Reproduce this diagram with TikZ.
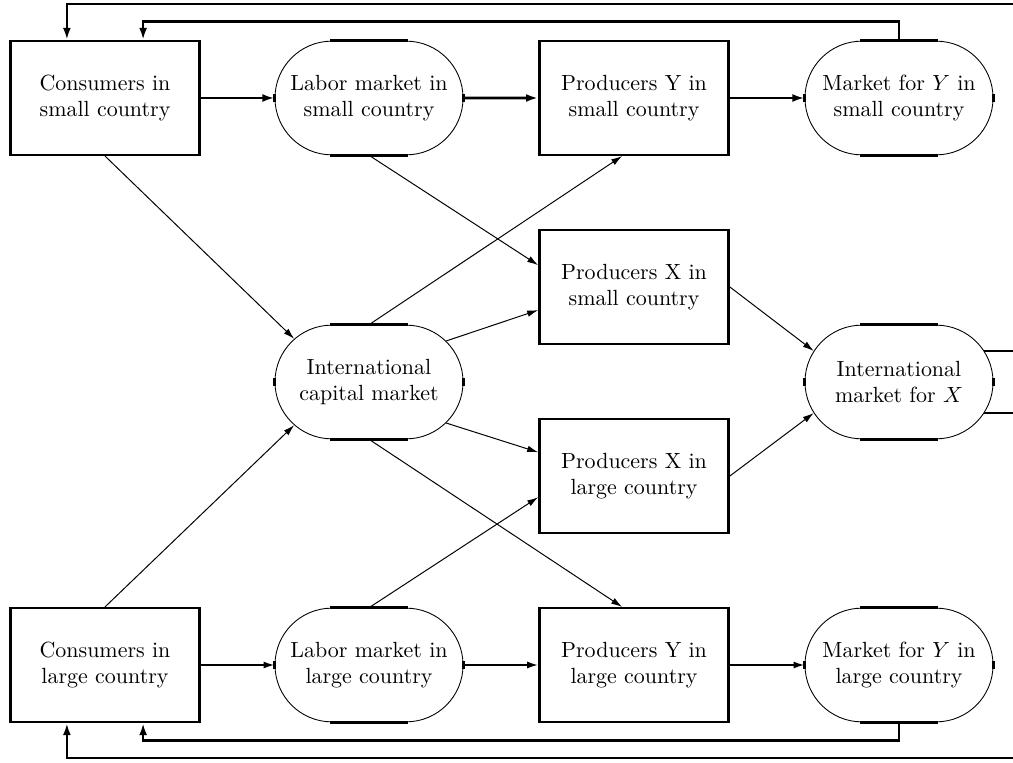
\documentclass[tikz,border=0pt]{standalone}
\usetikzlibrary{arrows.meta,shapes.misc}
\begin{document}
\begin{tikzpicture}[x=0.016cm,y=0.016cm,
  agent/.style={draw, line width=1.1pt, minimum width=3.03cm, minimum height=1.82cm, align=center},
  market/.style={draw, line width=0.4pt, rounded rectangle, inner sep=0pt, minimum width=3.01cm, minimum height=1.82cm,
    label={[align=center]center:#1}},
  bar/.style={line width=1.2pt},
  link/.style={line width=0.45pt, -{Latex[length=5pt,width=3pt]}},
  flow/.style={line width=0.8pt, -{Latex[length=5pt,width=3.2pt]}},
  bigflow/.style={line width=1.2pt, -{Latex[length=5.5pt,width=3.6pt]}},
  feed/.style={line width=1.1pt, -{Latex[length=5.5pt,width=3.6pt]}}]
\useasboundingbox (0,0) rectangle (1013,762);
% small country
\node[agent] (conS) at (105,664) {Consumers in\\small country};
\node[market={Labor market in\\small country}] (labS) at (369,664) {};
\node[agent] (prodYS) at (634,664) {Producers Y in\\small country};
\node[market={Market for $Y$ in\\small country}] (mktYS) at (899,664) {};
\node[agent] (prodXS) at (634,475) {Producers X in\\small country};
% international
\node[market={International\\capital market}] (cap) at (369,380) {};
\node[market={International\\market for $X$}] (mktX) at (899,380) {};
% large country
\node[agent] (prodXL) at (634,286) {Producers X in\\large country};
\node[agent] (conL) at (105,97) {Consumers in\\large country};
\node[market={Labor market in\\large country}] (labL) at (369,97) {};
\node[agent] (prodYL) at (634,97) {Producers Y in\\large country};
\node[market={Market for $Y$ in\\large country}] (mktYL) at (899,97) {};
% market marks
\foreach \m in {labS,mktYS,cap,mktX,labL,mktYL}{
  \draw[bar] ([xshift=-0.62cm]\m.north) -- ([xshift=0.62cm]\m.north);
  \draw[bar] ([xshift=-0.62cm]\m.south) -- ([xshift=0.62cm]\m.south);
  \draw[bar] ([yshift=-0.07cm]\m.west) -- ([yshift=0.07cm]\m.west);
  \draw[bar] ([yshift=-0.07cm]\m.east) -- ([yshift=0.07cm]\m.east);
}
% rows
\draw[bigflow] (conS) -- (labS);
\draw[bigflow] (labS) -- (prodYS);
\draw[bigflow] (prodYS) -- (mktYS);
\draw[flow] (conL) -- (labL);
\draw[flow] (labL) -- (prodYL);
\draw[flow] (prodYL) -- (mktYL);
% diagonals
\draw[link] (conS.south) -- (cap.150);
\draw[link] (conL.north) -- (cap.210);
\draw[link] (labS.south) -- ([yshift=0.35cm]prodXS.west);
\draw[link] (cap.north) -- ([xshift=-0.19cm]prodYS.south);
\draw[link] (cap.28) -- ([yshift=-0.37cm]prodXS.west);
\draw[link] (cap.-28) -- ([yshift=0.38cm]prodXL.west);
\draw[link] (cap.south) -- ([xshift=-0.19cm]prodYL.north);
\draw[link] (labL.north) -- ([yshift=-0.34cm]prodXL.west);
\draw[link] (prodXS.east) -- (mktX.160);
\draw[link] (prodXL.east) -- (mktX.200);
% feedback
\draw[feed] (mktYS.north) -- ++(0,19) -| ([xshift=0.61cm]conS.north);
\draw[feed] (mktX.20) -| (1030,758) -| ([xshift=-0.61cm]conS.north);
\draw[feed] (mktYL.south) -- ++(0,-18) -| ([xshift=0.61cm]conL.south);
\draw[feed] (mktX.-20) -| (1030,4) -| ([xshift=-0.61cm]conL.south);
\end{tikzpicture}
\end{document}
